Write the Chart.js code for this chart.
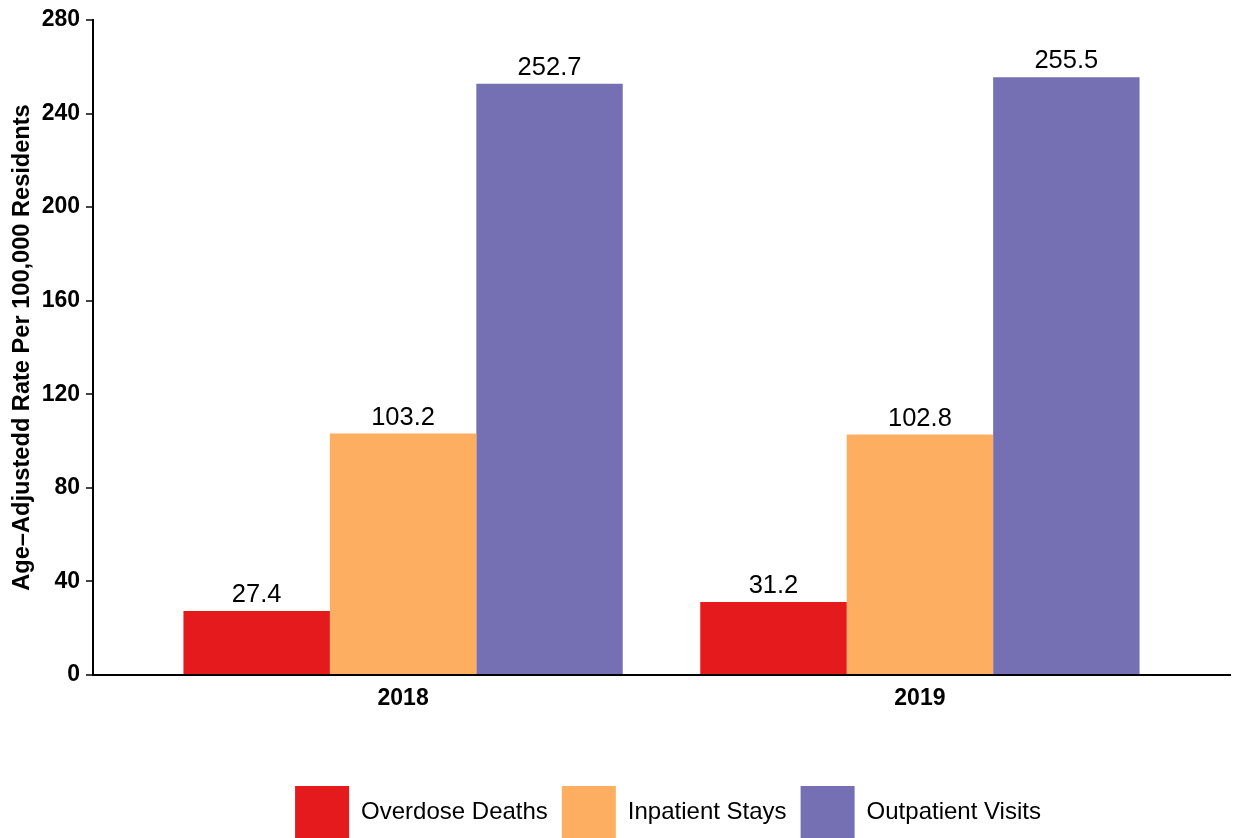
<!DOCTYPE html>
<html>
<head>
<meta charset="utf-8">
<script src="https://cdn.jsdelivr.net/npm/chart.js@4/dist/chart.umd.min.js"></script>
<style>
  body { margin: 0; background: #fff; }
  .chart--box { width: 1233px; height: 838px; }
</style>
</head>
<body>
<div class="chart--box"><canvas id="rateChart"></canvas></div>
<script>
// values
let years = ["2018", "2019"];
let overdoseDeaths = [27.4, 31.2];
let inpatientStays = [103.2, 102.8];
let outpatientVisits = [252.7, 255.5];
let yTicks = [0, 40, 80, 120, 160, 200, 240, 280];

Chart.defaults.font.family = '"Liberation Sans", Arial, sans-serif';
Chart.defaults.color = "#000";

function toPoints(values) {
    return values.map((v, i) => ({ x: i, y: v }));
}

// writes the value above each bar
let valueLabels = {
    id: "valueLabels",
    afterDatasetsDraw(chart) {
        let ctx = chart.ctx;
        ctx.save();
        ctx.font = '25.5px "Liberation Sans", Arial, sans-serif';
        ctx.fillStyle = "#000";
        ctx.textAlign = "center";
        ctx.textBaseline = "alphabetic";
        chart.data.datasets.forEach((ds, i) => {
            chart.getDatasetMeta(i).data.forEach((bar, j) => {
                ctx.fillText(ds.data[j].y.toFixed(1), bar.x, bar.y - 9);
            });
        });
        ctx.restore();
    }
};

// legend sits centred under the plot, flush with the bottom edge
let legendShift = {
    id: "legendShift",
    afterLayout(chart) {
        chart.legend.left += 53;
        chart.legend.right += 53;
        chart.legend.top += 10;
        chart.legend.bottom += 10;
    }
};

new Chart(document.getElementById("rateChart"), {
    type: "bar",
    data: {
        datasets: [
            { label: "Overdose Deaths", data: toPoints(overdoseDeaths), backgroundColor: "#E41A1C" },
            { label: "Inpatient Stays", data: toPoints(inpatientStays), backgroundColor: "#FDAE61" },
            { label: "Outpatient Visits", data: toPoints(outpatientVisits), backgroundColor: "#7570B3" }
        ]
    },
    options: {
        responsive: true,
        maintainAspectRatio: false,
        animation: false,
        categoryPercentage: 0.85,
        barPercentage: 1,
        layout: {
            padding: { top: 20, right: 3, bottom: 0, left: 0 }
        },
        plugins: {
            tooltip: { enabled: false },
            legend: {
                position: "bottom",
                labels: {
                    boxWidth: 54,
                    boxHeight: 52,
                    padding: 14,
                    font: { size: 24 },
                    color: "#000"
                }
            }
        },
        scales: {
            x: {
                type: "linear",
                min: -0.6,
                max: 1.6,
                bounds: "data",
                offset: false,
                afterBuildTicks: function(scale) {
                    scale.ticks = years.map((_, i) => ({ value: i }));
                },
                afterFit: function(scale) {
                    scale.height = 87;
                },
                ticks: {
                    callback: value => years[value],
                    font: { size: 23, weight: "bold" },
                    padding: 10,
                    maxRotation: 0
                },
                grid: { drawOnChartArea: false, drawTicks: false, offset: false },
                border: { color: "#000", width: 2 }
            },
            y: {
                min: 0,
                max: 280,
                afterBuildTicks: function(scale) {
                    scale.ticks = yTicks.map(v => ({ value: v }));
                },
                afterFit: function(scale) {
                    scale.width = 93;
                },
                ticks: {
                    font: { size: 23, weight: "bold" },
                    padding: 6
                },
                grid: { drawOnChartArea: false, tickLength: 7, color: "#444", lineWidth: 2 },
                border: { color: "#000", width: 2 },
                title: {
                    display: true,
                    text: "Age\u2013Adjustedd Rate Per 100,000 Residents",
                    font: { size: 23.6, weight: "bold" },
                    padding: { top: 8, bottom: 0 }
                }
            }
        }
    },
    plugins: [valueLabels, legendShift]
});
</script>
</body>
</html>
